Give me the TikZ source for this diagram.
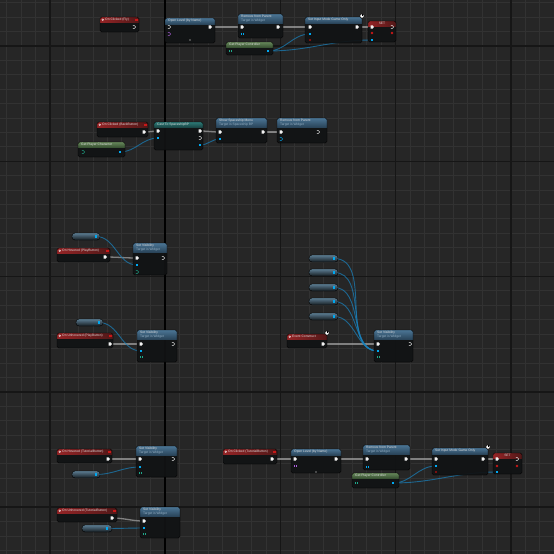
\documentclass[tikz,border=0pt]{standalone}
\usepackage{fontspec}
\setmainfont{Liberation Sans}
\pgfdeclarelayer{bg}
\pgfdeclarelayer{wires}
\pgfsetlayers{bg,wires,main}
\definecolor{bgc}{HTML}{262626}
\definecolor{minc}{HTML}{323232}
\definecolor{majc}{HTML}{161616}
\definecolor{bodyc}{HTML}{111314}
\definecolor{ttlc}{HTML}{DADADA}
\definecolor{subc}{HTML}{94AFC3}
\definecolor{exc}{HTML}{A4A4A4}
\definecolor{dwc}{HTML}{1A80BA}
\definecolor{pinb}{HTML}{00A8F0}
\definecolor{pint}{HTML}{1FA88A}
\definecolor{pinp}{HTML}{B060E0}
\definecolor{pinr}{HTML}{C81818}
\definecolor{pinrd}{HTML}{7A1010}
\definecolor{pinw}{HTML}{F2F2F2}
\definecolor{pilltop}{HTML}{5C7D92}
\definecolor{pillbot}{HTML}{161C21}
\definecolor{redA}{HTML}{952426}
\definecolor{redB}{HTML}{511818}
\definecolor{bluA}{HTML}{4B7595}
\definecolor{bluB}{HTML}{2A455A}
\definecolor{grnA}{HTML}{66875A}
\definecolor{grnB}{HTML}{3A5434}
\definecolor{telA}{HTML}{2D7A76}
\definecolor{telB}{HTML}{1A4847}
\tikzset{
  bpbody/.style={fill=bodyc, fill opacity=0.94, rounded corners=1.6pt, inner sep=0pt, outer sep=0pt},
  bpborder/.style={draw=black, line width=0.4pt, rounded corners=1.6pt},
  hred/.style={left color=redA, right color=redB},
  hblue/.style={top color=bluA, bottom color=bluB},
  hgreen/.style={top color=grnA, bottom color=grnB},
  hteal/.style={top color=telA, bottom color=telB},
  ttl/.style={font=\fontsize{3.3}{3.7}\selectfont, text=ttlc, inner sep=0pt, align=left},
  pill/.style={rounded corners=3pt, top color=pilltop, bottom color=pillbot, draw=black, line width=0.4pt, inner sep=0pt, outer sep=0pt},
  exw/.style={draw=exc, line width=1.3pt, draw opacity=0.72},
  dw/.style={draw=dwc, line width=0.9pt, draw opacity=0.72},
  clockic/.style={circle, fill=white, draw=black, line width=0.4pt, minimum size=4.2pt, inner sep=0pt},
}
% blueprint node: name, x, y, w, h, header height, header style, title
\newcommand\bpn[8]{%
  \node[bpbody, minimum width=#4pt, minimum height=#5pt, anchor=north west] (#1) at (#2,#3) {};
  \begin{scope}
    \clip[rounded corners=1.6pt] (#1.north west) rectangle (#1.south east);
    \fill[#7] (#1.north west) rectangle ([yshift=-#6pt]#1.north east);
  \end{scope}
  \draw[bpborder] (#1.north west) rectangle (#1.south east);
  \node[ttl, anchor=north west] (#1-t) at ([xshift=3pt,yshift=-0.8pt]#1.north west) {#8};
}
% event node: name, x, y, w, h, title
\newcommand\bpev[6]{%
  \bpn{#1}{#2}{#3}{#4}{#5}{5.5}{hred}{}
  \draw[white!85, line width=0.3pt] ([xshift=2.8pt,yshift=-2.8pt]#1.north west) circle (0.9pt);
  \node[ttl, anchor=north west] (#1-e) at ([xshift=5pt,yshift=-1pt]#1.north west) {#6};
}
\newcommand\bpdel[1]{\fill[pinr] ([xshift=-3.6pt,yshift=-1.7pt]#1.north east) rectangle ++(2.2pt,-2.2pt);}
\newcommand\bppill[5]{\node[pill, minimum width=#4pt, minimum height=#5pt, anchor=north west] (#1) at (#2,#3) {};}
% pins
\newcommand\pex[3]{\coordinate (#1) at (#2,#3);
  \fill[pinw] ([shift={(-1.4pt,1.7pt)}]#1) -- ++(2pt,0pt) -- ++(1.3pt,-1.7pt) -- ++(-1.3pt,-1.7pt) -- ++(-2pt,0pt) -- cycle;}
\newcommand\phol[4]{\coordinate (#1) at (#2,#3);
  \draw[#4, line width=0.45pt] ([shift={(-1.2pt,1.4pt)}]#1) -- ++(1.7pt,0pt) -- ++(1.1pt,-1.4pt) -- ++(-1.1pt,-1.4pt) -- ++(-1.7pt,0pt);}
\newcommand\pdat[4]{\coordinate (#1) at (#2,#3);
  \fill[#4] ([shift={(-1.4pt,-1.4pt)}]#1) rectangle ++(2.8pt,2.8pt);}
\newcommand\pbar[4]{\coordinate (#1) at (#2,#3);
  \fill[#4] ([shift={(-1.3pt,-1.2pt)}]#1) rectangle ++(0.8pt,2.4pt);
  \fill[#4] ([shift={(0.5pt,-1.2pt)}]#1) rectangle ++(0.8pt,2.4pt);}
\newcommand\pred[3]{\coordinate (#1) at (#2,#3);
  \fill[pinr] ([shift={(-1.4pt,0pt)}]#1) -- ++(1.4pt,1.4pt) -- ++(1.4pt,-1.4pt) -- ++(-1.4pt,-1.4pt) -- cycle;}
\begin{document}
\begin{tikzpicture}[x=1pt,y=-1pt]
\useasboundingbox (0,0) rectangle (554,554);
\begin{pgfonlayer}{bg}
  \fill[bgc] (0,0) rectangle (554,554);
  \foreach \i in {0,...,38} {
    \draw[minc, line width=0.9pt] ({6.57+\i*14.413},0) -- ({6.57+\i*14.413},554);
    \draw[minc, line width=0.9pt] (0,{2.67+\i*14.413}) -- (554,{2.67+\i*14.413});
  }
  \foreach \i in {0,...,4} {
    \draw[majc, line width=1.4pt] ({49.8+\i*115.3},0) -- ({49.8+\i*115.3},554);
    \draw[majc, line width=1.4pt] (0,{45.9+\i*115.3}) -- (554,{45.9+\i*115.3});
  }
  \draw[black, line width=2pt] (165.1,0) -- (165.1,554);
\end{pgfonlayer}

% ---------- top row ----------
\bpev{evFly}{100}{17}{39}{15}{On Clicked (Fly)}
\bpdel{evFly}
\phol{evFly-o}{134}{27}{pinw}
\bpn{ol1}{165}{18}{50}{25}{6}{hblue}{Open Level (by Name)}
\phol{ol1-i}{169}{27}{pinw}
\pex{ol1-o}{210}{27}
\phol{ol1-n}{169}{34}{pinp}
\fill[gray] (190,40) circle (0.8pt);
\bpn{rm1}{238}{14}{45}{24}{9}{hblue}{Remove from Parent\\{\color{subc}Target is Widget}}
\pex{rm1-i}{242}{27}
\pex{rm1-o}{278}{27}
\pbar{rm1-t}{242}{34}{pinb}
\bpn{gpc1}{226}{42}{47}{13}{5}{hgreen}{Get Player Controller}
\pbar{gpc1-i}{230}{51}{pint}
\pdat{gpc1-o}{268}{51}{pinb}
\bpn{sim1}{305}{17}{57}{26}{6}{hblue}{Set Input Mode Game Only}
\pex{sim1-i}{310}{27}
\pex{sim1-o}{357}{27}
\pdat{sim1-pc}{310}{34}{pinb}
\pdat{sim1-r}{310}{40}{pinrd}
\node[clockic] (ic1) at (362,16) {};
\draw[black, line width=0.4pt] (ic1.center) -- (ic1.north);
\bpn{set1}{368}{21}{28}{21}{5}{hred}{}
\node[ttl] (set1-t) at ([yshift=-2.6pt]set1.north) {SET};
\pex{set1-i}{372}{27}
\phol{set1-o}{392}{27}{pinw}
\pred{set1-ri}{372}{33}
\pred{set1-ro}{392}{33}
\pdat{set1-b}{372}{40}{pinb}

% ---------- second row ----------
\bpev{evBk}{97}{122}{51}{15}{On Clicked (BackButton)}
\bpdel{evBk}
\pex{evBk-o}{144}{132}
\bpn{gpch}{78}{142}{47}{15}{5}{hgreen}{Get Player Character}
\phol{gpch-i}{83}{152}{pint}
\pdat{gpch-o}{120}{152}{pinb}
\bpn{cast}{154}{122}{49}{28}{5}{hteal}{Cast To SpaceshipBP}
\pex{cast-i}{158}{131}
\pdat{cast-obj}{158}{138}{pinb}
\pex{cast-o}{200}{131}
\phol{cast-f}{200}{138}{pinw}
\pdat{cast-as}{200}{145}{pinb}
\bpn{show}{216}{118}{51}{25}{9}{hblue}{Show Spaceship Menu\\{\color{subc}Target is Spaceship BP}}
\pex{show-i}{220}{132}
\pex{show-o}{263}{132}
\pdat{show-t}{220}{139}{pinb}
\bpn{rm2}{277}{118}{50}{25}{9}{hblue}{Remove from Parent\\{\color{subc}Target is Widget}}
\pex{rm2-i}{281}{132}
\phol{rm2-o}{318}{132}{pinw}
\phol{rm2-t}{281}{139}{pinb}

% ---------- hover group 1 ----------
\bppill{pl1}{72}{233}{28}{7}
\pdat{pl1-o}{96}{236.5}{pinb}
\bpev{evH1}{57}{248}{53}{14}{On Hovered (PlayButton)}
\bpdel{evH1}
\pex{evH1-o}{105}{257}
\bpn{sv1}{133}{243}{34}{32}{9}{hblue}{Set Visibility\\{\color{subc}Target is Widget}}
\pex{sv1-i}{137}{258}
\pdat{sv1-t}{137}{265}{pinb}
\phol{sv1-v}{137}{272}{pint}
\phol{sv1-o}{163}{258}{pinw}

% ---------- hover group 2 ----------
\bppill{pl2}{76}{319}{27}{7}
\pdat{pl2-o}{99}{322.5}{pinb}
\bpev{evU1}{57}{333}{56}{15}{On Unhovered (PlayButton)}
\bpdel{evU1}
\pex{evU1-o}{110}{344}
\bpn{sv2}{137}{330}{40}{32}{9}{hblue}{Set Visibility\\{\color{subc}Target is Widget}}
\pex{sv2-i}{141}{344}
\pdat{sv2-t}{141}{351}{pinb}
\pbar{sv2-v}{141}{357}{pint}
\phol{sv2-o}{173}{344}{pinw}

% ---------- construct group ----------
\bppill{pl3}{309}{255}{29}{7}
\pdat{pl3-o}{334}{258.5}{pinb}
\bppill{pl4}{309}{269}{29}{7}
\pdat{pl4-o}{334}{272.5}{pinb}
\bppill{pl5}{309}{284}{29}{7}
\pdat{pl5-o}{334}{287.5}{pinb}
\bppill{pl6}{309}{298}{29}{7}
\pdat{pl6-o}{334}{301.5}{pinb}
\bppill{pl7}{309}{313}{29}{7}
\pdat{pl7-o}{334}{316.5}{pinb}
\bpev{evCon}{287}{334}{40}{14}{Event Construct}
\node[clockic] (ic2) at (327,333) {};
\draw[black, line width=0.4pt] (ic2.center) -- (ic2.north);
\pex{evCon-o}{323}{344}
\bpn{sv3}{374}{330}{39}{32}{9}{hblue}{Set Visibility\\{\color{subc}Target is Widget}}
\pex{sv3-i}{378}{344}
\pdat{sv3-t}{378}{351}{pinb}
\pbar{sv3-v}{378}{357}{pint}
\phol{sv3-o}{410}{344}{pinw}

% ---------- bottom left ----------
\bpev{evH2}{57}{449}{55}{14}{On Hovered (TutorialButton)}
\bpdel{evH2}
\pex{evH2-o}{108}{459}
\bpn{sv4}{136}{446}{41}{31}{9}{hblue}{Set Visibility\\{\color{subc}Target is Widget}}
\pex{sv4-i}{140}{459}
\pdat{sv4-t}{140}{467}{pinb}
\pbar{sv4-v}{140}{473}{pint}
\phol{sv4-o}{173}{459}{pinw}
\bppill{pl8}{72}{471}{28}{7}
\pdat{pl8-o}{96}{474.5}{pinb}
\bpev{evU2}{57}{508}{60}{14}{On Unhovered (TutorialButton)}
\bpdel{evU2}
\pex{evU2-o}{112}{518}
\bpn{sv5}{140}{507}{40}{31}{9}{hblue}{Set Visibility\\{\color{subc}Target is Widget}}
\pex{sv5-i}{144}{521}
\pdat{sv5-t}{144}{528}{pinb}
\pbar{sv5-v}{144}{534}{pint}
\bppill{pl9}{82}{525}{30}{7}
\pdat{pl9-o}{107}{528.5}{pinb}

% ---------- bottom right ----------
\bpev{evTut}{223}{449}{54}{15}{On Clicked (TutorialButton)}
\bpdel{evTut}
\pex{evTut-o}{272}{459}
\bpn{ol2}{291}{449}{50}{24}{6}{hblue}{Open Level (by Name)}
\pex{ol2-i}{295}{459}
\pex{ol2-o}{336}{459}
\pbar{ol2-n}{295}{466}{pinp}
\fill[gray] (316,472) circle (0.8pt);
\bpn{rm3}{363}{445}{47}{25}{9}{hblue}{Remove from Parent\\{\color{subc}Target is Widget}}
\pex{rm3-i}{367}{459}
\pex{rm3-o}{406}{459}
\pbar{rm3-t}{367}{467}{pinb}
\bpn{gpc2}{352}{473}{47}{15}{5}{hgreen}{Get Player Controller}
\pbar{gpc2-i}{356}{483}{pint}
\pdat{gpc2-o}{393}{483}{pinb}
\bpn{sim2}{432}{448}{56}{27}{6}{hblue}{Set Input Mode Game Only}
\pex{sim2-i}{436}{459}
\pex{sim2-o}{483}{459}
\pdat{sim2-pc}{436}{466}{pinb}
\pdat{sim2-r}{436}{472}{pinrd}
\node[clockic] (ic3) at (488,447) {};
\draw[black, line width=0.4pt] (ic3.center) -- (ic3.north);
\bpn{set2}{493}{453}{29}{21}{5}{hred}{}
\node[ttl] (set2-t) at ([yshift=-2.5pt]set2.north) {SET};
\pex{set2-i}{497}{459}
\phol{set2-o}{517}{459}{pinw}
\pred{set2-ri}{497}{466}
\pred{set2-ro}{517}{466}
\pdat{set2-b}{497}{472}{pinb}

% ---------- wires ----------
\begin{pgfonlayer}{wires}
  \draw[exw] (ol1-o) to[out=0,in=180] (rm1-i);
  \draw[exw] (rm1-o) to[out=0,in=180] (sim1-i);
  \draw[exw] (sim1-o) to[out=0,in=180] (set1-i);
  \draw[dw] (gpc1-o) to[out=0,in=180] (sim1-pc);
  \draw[dw] (gpc1-o) to[out=0,in=180] (set1-b);

  \draw[exw] (evBk-o) to[out=0,in=180] (cast-i);
  \draw[dw] (gpch-o) to[out=0,in=180] (cast-obj);
  \draw[exw] (cast-o) to[out=0,in=180] (show-i);
  \draw[dw] (cast-as) to[out=0,in=180] (show-t);
  \draw[exw] (show-o) to[out=0,in=180] (rm2-i);

  \draw[exw] (evH1-o) to[out=0,in=180] (sv1-i);
  \draw[dw] (pl1-o) to[out=0,in=180] (sv1-t);
  \draw[exw] (evU1-o) to[out=0,in=180] (sv2-i);
  \draw[dw] (pl2-o) to[out=0,in=180] (sv2-t);

  \draw[exw] (evCon-o) to[out=0,in=180] (sv3-i);
  \foreach \p in {pl3-o,pl4-o,pl5-o,pl6-o,pl7-o}
    \draw[dw] (\p) to[out=0,in=180] (sv3-t);

  \draw[exw] (evH2-o) to[out=0,in=180] (sv4-i);
  \draw[dw] (pl8-o) to[out=0,in=180] (sv4-t);
  \draw[exw] (evU2-o) to[out=0,in=180] (sv5-i);
  \draw[dw] (pl9-o) to[out=0,in=180] (sv5-t);

  \draw[exw] (evTut-o) to[out=0,in=180] (ol2-i);
  \draw[exw] (ol2-o) to[out=0,in=180] (rm3-i);
  \draw[exw] (rm3-o) to[out=0,in=180] (sim2-i);
  \draw[exw] (sim2-o) to[out=0,in=180] (set2-i);
  \draw[dw] (gpc2-o) to[out=0,in=180] (sim2-pc);
  \draw[dw] (gpc2-o) to[out=0,in=180] (set2-b);
\end{pgfonlayer}
\end{tikzpicture}
\end{document}
